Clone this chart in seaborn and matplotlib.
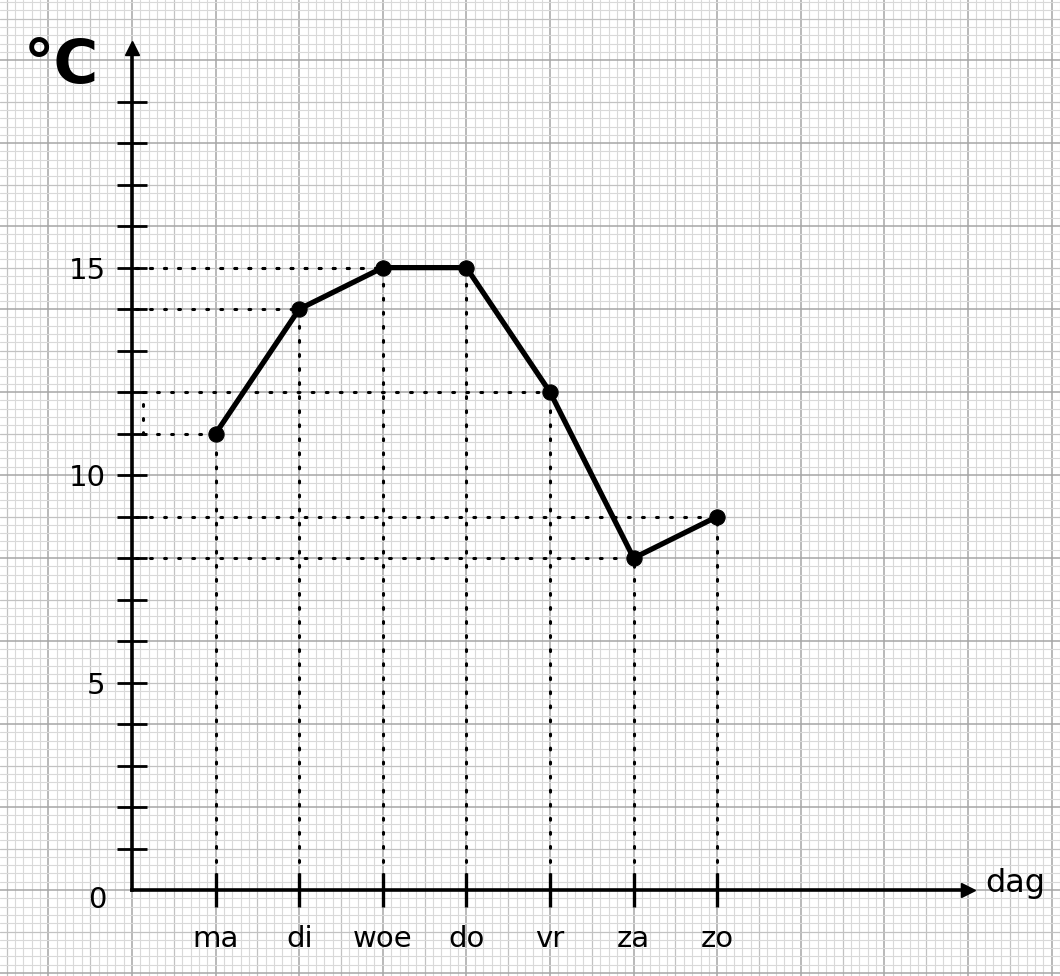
import matplotlib
matplotlib.use("Agg")
import matplotlib.pyplot as plt
import seaborn as sns
import pandas as pd

# temperatuur per dag
days = ['ma', 'di', 'woe', 'do', 'vr', 'za', 'zo']
temps = [11, 14, 15, 15, 12, 8, 9]
y_labels = ['5', '10', '15']

df = pd.DataFrame({'dag': days, 'pos': range(1, len(days) + 1), 'temp': temps})

sns.set_style('white')
plt.rcParams['font.family'] = ['DejaVu Sans']
plt.rcParams['text.color'] = 'black'
plt.rcParams['xtick.color'] = 'black'
plt.rcParams['ytick.color'] = 'black'

fig = plt.figure(figsize=(10.6, 9.76), dpi=100)
ax = fig.add_axes([0, 0, 1, 1])
ax.set_xlim(-1.579, 11.10)
ax.set_ylim(-2.072, 21.45)


def paper_style(k):
    if k % 10 == 0:
        return '#a6a6a6', 1.1
    if k % 5 == 0:
        return '#c2c2c2', 0.9
    return '#d9d9d9', 0.8


# graph paper
for k in range(-15, 112):
    c, lw = paper_style(k)
    ax.axvline(k / 10, color=c, lw=lw, zorder=0)
for k in range(-10, 108):
    c, lw = paper_style(k)
    ax.axhline(k / 5, color=c, lw=lw, zorder=0)

# axes as arrows
for s in ['top', 'right']:
    ax.spines[s].set_visible(False)
ax.spines['left'].set_position(('data', 0))
ax.spines['bottom'].set_position(('data', 0))
ax.spines['left'].set_bounds(0, 20.2)
ax.spines['bottom'].set_bounds(0, 9.95)
for s in ['left', 'bottom']:
    ax.spines[s].set_linewidth(2.6)
    ax.spines[s].set_color('black')
    ax.spines[s].set_zorder(3)
ax.plot(0, 20.3, marker='^', color='black', markersize=10, clip_on=False, zorder=4)
ax.plot(10.0, 0, marker='>', color='black', markersize=10, clip_on=False, zorder=4)

ax.set_xticks(df['pos'], days)
ax.set_yticks(range(1, 20), [str(v) if str(v) in y_labels else '' for v in range(1, 20)])
ax.tick_params(axis='x', bottom=True, direction='inout', length=24, width=2.4, pad=13, labelsize=21)
ax.tick_params(axis='y', left=True, direction='inout', length=22, width=2.0, pad=8, labelsize=21)
ax.text(-0.42, -0.25, '0', fontsize=21, ha='center', va='center')
ax.text(10.2, 0.15, 'dag', fontsize=23, ha='left', va='center')
ax.text(-0.84, 19.85, '°C', fontsize=44, ha='center', va='center', fontweight='bold')

# dotted guide lines
dot = dict(color='black', lw=2.2, linestyle=(0, (0.6, 4)), dash_capstyle='round', zorder=2)
for p, t in zip(df['pos'], df['temp']):
    ax.plot([p, p], [0, t], **dot)
    x0 = 0.13 if t in (11, 12) else 0.05
    ax.plot([x0, p], [t, t], **dot)
ax.plot([0.13, 0.13], [11, 12], **dot)

sns.lineplot(data=df, x='pos', y='temp', ax=ax, color='black', lw=3.8,
             marker='o', markersize=11, markeredgecolor='black', zorder=5)
ax.set_xlabel('')
ax.set_ylabel('')

fig.savefig('out.png', dpi=100)
